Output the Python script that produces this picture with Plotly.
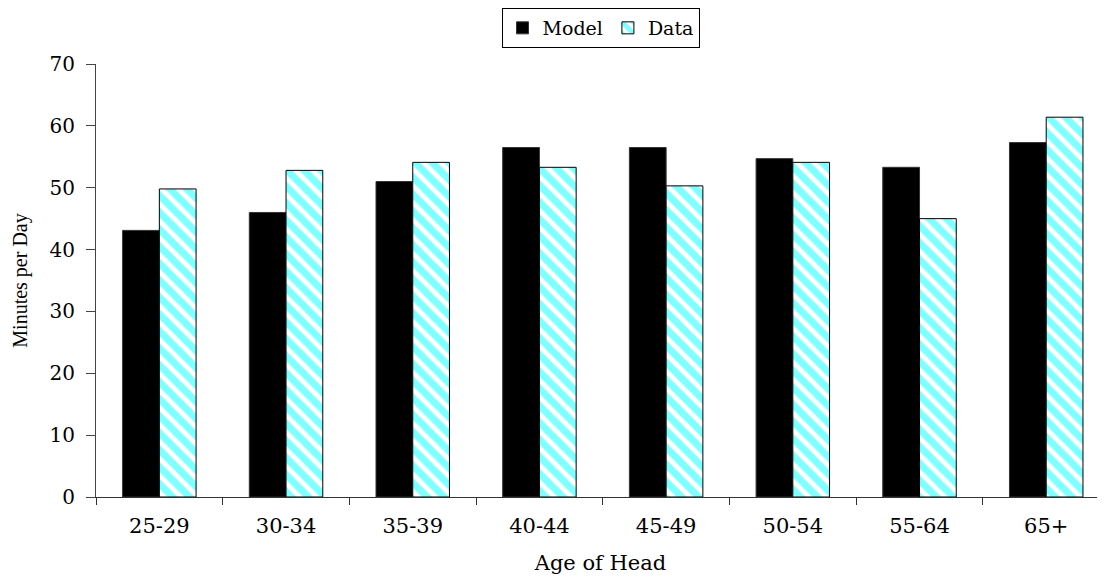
import plotly.graph_objects as go

categories = ["25-29", "30-34", "35-39", "40-44", "45-49", "50-54", "55-64", "65+"]
model = [43.1, 46.0, 51.0, 56.5, 56.5, 54.7, 53.3, 57.3]
data = [49.8, 52.8, 54.1, 53.3, 50.3, 54.1, 45.0, 61.4]

WIDE = "DejaVu Serif"
NARROW = "Liberation Serif"

fig = go.Figure()
fig.add_trace(go.Bar(
    x=categories, y=model, name="Model",
    marker=dict(color="black", line=dict(color="#333333", width=1)),
))
fig.add_trace(go.Bar(
    x=categories, y=data, name="Data",
    marker=dict(
        color="white",
        line=dict(color="black", width=1),
        pattern=dict(shape="\\", fgcolor="#00FFFF", bgcolor="white", size=12, solidity=0.6),
    ),
))

# page body has an 8px default margin, so the figure is 8px smaller each way
fig.update_layout(
    width=1097, height=570,
    margin=dict(l=88, r=0, t=56, b=81, autoexpand=False),
    plot_bgcolor="white", paper_bgcolor="white",
    barmode="group", bargap=0.42, bargroupgap=0,
    font=dict(family=WIDE, size=20, color="black"),
    showlegend=True,
    legend=dict(
        orientation="h", x=0.5, xanchor="center",
        yref="container", y=1.0, yanchor="top",
        bordercolor="black", borderwidth=1, font=dict(family=WIDE, size=19),
        itemwidth=30, tracegroupgap=0,
    ),
    xaxis=dict(
        range=[-0.5, 7.464],
        showline=True, linecolor="#333333", linewidth=1,
        ticks="outside", tickson="boundaries", ticklen=7, tickcolor="#333333",
        showgrid=False, ticklabelstandoff=10,
        title=dict(text="Age of Head", font=dict(family=WIDE, size=21), standoff=18),
        tickfont=dict(family=WIDE, size=21),
    ),
    yaxis=dict(
        range=[0, 70], dtick=10,
        showline=True, linecolor="#444444", linewidth=1,
        ticks="outside", ticklen=9, tickcolor="#444444",
        showgrid=False, zeroline=False, ticklabelstandoff=7,
        title=dict(text="Minutes per Day", font=dict(family=NARROW, size=20), standoff=16),
        tickfont=dict(family=WIDE, size=20),
    ),
)

fig.write_html("out.html")
